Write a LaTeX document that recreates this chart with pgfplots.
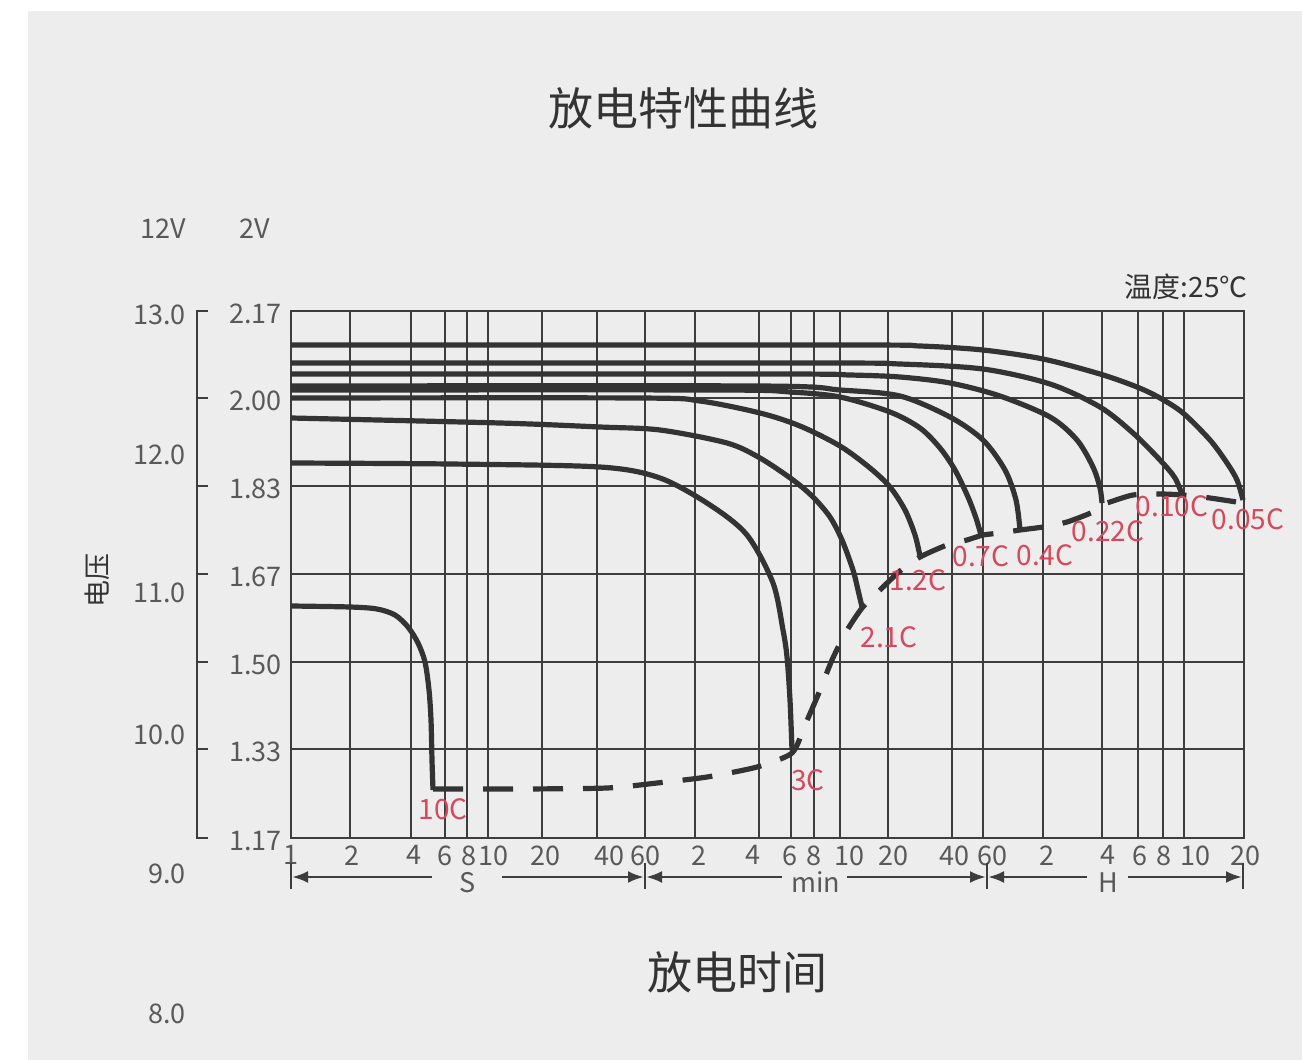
\documentclass[border=0pt]{standalone}
\usepackage{pgfplots}
\pgfplotsset{compat=1.18}
\usepackage{fontspec}
\setmainfont{Noto Sans CJK SC}
\usetikzlibrary{arrows.meta}
\definecolor{panel}{HTML}{EDEDED}
\definecolor{gridc}{HTML}{3D3D3D}
\definecolor{curvec}{HTML}{333333}
\definecolor{labc}{HTML}{595959}
\definecolor{titc}{HTML}{333333}
\definecolor{redc}{HTML}{D6485C}
\newcommand{\tickf}{\fontsize{13.5}{13.5}\selectfont}
\newcommand{\redf}{\fontsize{14}{14}\selectfont}
\begin{document}
\begin{tikzpicture}[x=0.5pt,y=0.5pt]
\useasboundingbox (0,0) rectangle (1302,-1060);
\fill[white] (0,0) rectangle (1302,-1060);
\fill[panel] (28,-11) rectangle (1302,-1060);
\begin{axis}[
  at={(145.5pt,-419pt)}, anchor=south west,
  x=0.5pt, y=0.5pt,
  xmin=291, xmax=1244, ymin=-838, ymax=-311,
  clip=false,
  axis line style={gridc, line width=1.3pt},
  xtick={291,350,411,445,467,488,542,597,645,695,759,791,814,840,888,952,983,1043,1102,1138,1163,1184,1244},
  xticklabels={},
  ytick={-838,-749,-662,-574,-486,-398,-311},
  yticklabels={1.17,1.33,1.50,1.67,1.83,2.00,2.17},
  grid=major,
  major grid style={gridc, line width=1.3pt},
  major tick length=0pt,
  yticklabel style={font=\tickf, text=labc, inner sep=0pt, anchor=east, xshift=-4.5pt, yshift=-1.5pt},
]
% 0.05C
\addplot[curvec, line width=2.6pt, smooth, tension=0.5] coordinates {(291,-345) (850,-345) (920,-346) (983,-350) (1043,-359) (1100,-374) (1137,-387) (1160,-398) (1183,-413) (1210,-440) (1227,-463) (1237,-480) (1243,-500)};
% 0.10C
\addplot[curvec, line width=2.6pt, smooth, tension=0.5] coordinates {(291,-363) (820,-363) (900,-364) (983,-369) (1050,-384) (1100,-407) (1133,-433) (1160,-460) (1175,-478) (1183,-497)};
% 0.22C
\addplot[curvec, line width=2.6pt, smooth, tension=0.5] coordinates {(291,-374) (780,-374) (850,-375) (900,-377) (950,-383) (1000,-396) (1050,-417) (1077,-440) (1093,-467) (1100,-488) (1102,-503)};
% 0.4C
\addplot[curvec, line width=2.6pt, smooth, tension=0.5] coordinates {(291,-386) (760,-386) (840,-390) (900,-396) (950,-417) (983,-440) (1005,-470) (1016,-500) (1020,-530)};
% 0.7C
\addplot[curvec, line width=2.6pt, smooth, tension=0.5] coordinates {(291,-390) (720,-390) (790,-392) (840,-397) (890,-412) (920,-428) (940,-448) (955,-470) (968,-497) (976,-518) (981,-535)};
% 1.2C
\addplot[curvec, line width=2.6pt, smooth, tension=0.5] coordinates {(291,-398) (640,-398) (700,-401) (760,-413) (800,-426) (840,-446) (870,-468) (890,-487) (905,-510) (915,-535) (920,-556)};
% 2.1C
\addplot[curvec, line width=2.6pt, smooth, tension=0.5] coordinates {(291,-418) (500,-423) (600,-427) (660,-430) (727,-443) (760,-458) (793,-480) (813,-497) (830,-517) (842,-540) (853,-570) (858,-590) (862,-607)};
% 3C
\addplot[curvec, line width=2.6pt, smooth, tension=0.5] coordinates {(291,-463) (450,-464) (600,-467) (660,-478) (710,-505) (747,-535) (773,-583) (783,-630) (787,-657) (790,-700) (792,-750)};
% 10C
\addplot[curvec, line width=2.6pt, smooth, tension=0.5] coordinates {(291,-606) (350,-607) (377,-609) (395,-615) (408,-627) (418,-643) (425,-662) (429,-690) (431,-720) (432,-760) (433,-790)};
% end-of-discharge envelope
\addplot[curvec, line width=2.6pt, dash pattern=on 15pt off 10pt, smooth, tension=0.4] coordinates {(433,-789) (520,-789) (607,-788) (657,-783) (707,-777) (757,-767) (792,-753) (805,-725) (818,-695) (832,-660) (846,-632) (862,-608) (880,-590) (900,-571) (920,-557) (947,-545) (967,-540) (983,-535) (1000,-533) (1020,-530) (1043,-527) (1067,-522) (1093,-512) (1102,-505) (1110,-502) (1133,-495) (1160,-494) (1183,-495) (1210,-498) (1243,-503)};
\end{axis}
% x tick labels
\foreach \xx/\lab in {291/1,352/2,414/4,445/6,469/8,493/10,545/20,609/40,645/60,699/2,753/4,790/6,814/8,849/10,893/20,954/40,992/60,1047/2,1108/4,1140/6,1164/8,1195/10,1245/20}
  \node[anchor=north, inner sep=0pt, text=labc, font=\tickf] at (\xx,-845) {\lab};
% unit bars and arrows
\foreach \xx in {645,987,1243} \draw[gridc, line width=1.4pt] (\xx,-863) -- (\xx,-889);
\draw[gridc, line width=1.4pt] (291,-863) -- (291,-889);
\tikzset{arr/.style={gridc, line width=1.4pt, -{Latex[length=8pt,width=6pt]}}}
\draw[arr] (432,-877) -- (292,-877);
\draw[arr] (502,-877) -- (644,-877);
\draw[arr] (782,-877) -- (646,-877);
\draw[arr] (847,-877) -- (986,-877);
\draw[arr] (1087,-877) -- (988,-877);
\draw[arr] (1128,-877) -- (1242,-877);
\node[anchor=base, inner sep=0pt, text=labc, font=\tickf] at (468,-892) {S};
\node[anchor=base, inner sep=0pt, text=labc, font=\tickf] at (816,-892) {min};
\node[anchor=base, inner sep=0pt, text=labc, font=\tickf] at (1108,-892) {H};
% left bracket scale
\draw[gridc, line width=1.3pt] (208,-311) -- (197,-311) -- (197,-838) -- (208,-838);
\foreach \yy in {398,486,574,662,749} \draw[gridc, line width=1.3pt] (197,-\yy) -- (208,-\yy);
\foreach \yy/\lab in {315/13.0,455/12.0,593/11.0,735/10.0,874/9.0,1014/8.0}
  \node[anchor=east, inner sep=0pt, text=labc, font=\tickf] at (186,-\yy) {\lab};
\node[anchor=east, inner sep=0pt, text=labc, font=\tickf] at (186,-229) {12V};
\node[anchor=east, inner sep=0pt, text=labc, font=\tickf] at (270,-229) {2V};
% titles
\node[text=titc, font=\fontsize{22.5}{22.5}\selectfont] at (683,-108) {放电特性曲线};
\node[text=titc, font=\fontsize{22.5}{22.5}\selectfont] at (737,-972) {放电时间};
\node[text=titc, font=\fontsize{13.5}{13.5}\selectfont, rotate=90] at (97,-580) {电压};
\node[anchor=east, inner sep=0pt, text=titc, font=\fontsize{14}{14}\selectfont] at (1248,-287) {温度:25℃};
% rate labels
\foreach \xx/\yy/\lab in {443/809/10C, 808/780/3C, 889/637/2.1C, 918/580/1.2C, 981/556/0.7C, 1045/555/0.4C, 1108/531/0.22C, 1172/506/0.10C, 1248/519/0.05C}
  \node[inner sep=0pt, text=redc, font=\redf] at (\xx,-\yy) {\lab};
\end{tikzpicture}
\end{document}
